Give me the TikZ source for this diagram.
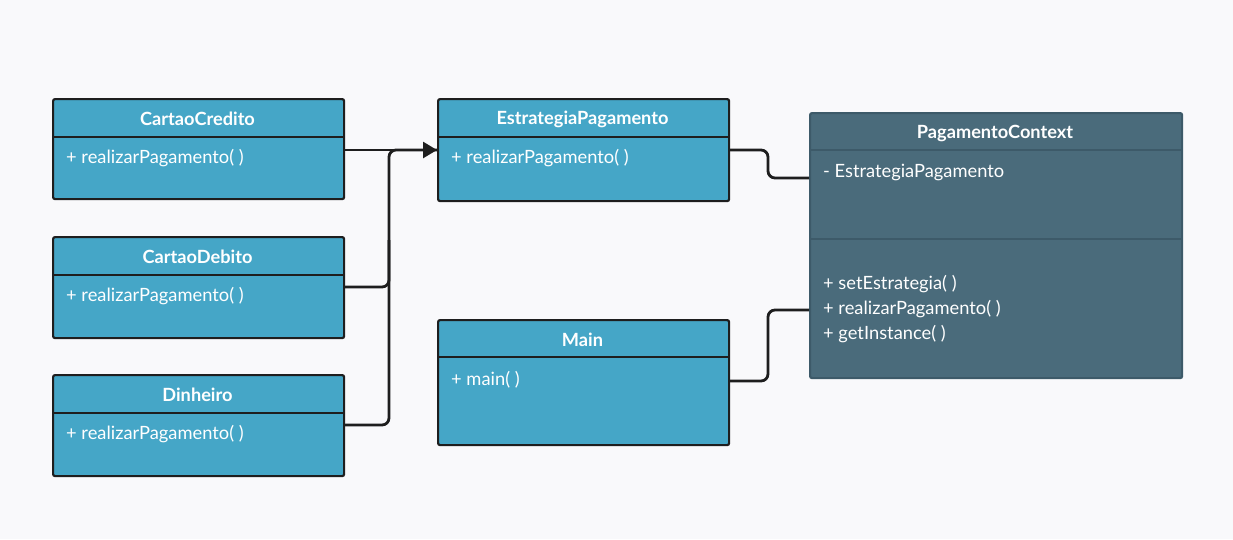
\documentclass[tikz,border=0pt]{standalone}
\usepackage{fontspec}
\setmainfont{Lato}
\usetikzlibrary{arrows.meta,calc}
\definecolor{bg}{HTML}{F9F9FB}
\definecolor{boxblue}{HTML}{45A6C7}
\definecolor{boxdark}{HTML}{4A6B7B}
\definecolor{darkline}{HTML}{3D5A69}
\definecolor{ink}{HTML}{1E1E1E}
\tikzset{
  classbox/.style={draw=ink, line width=2.2pt, fill=boxblue, rounded corners=2pt, inner sep=0pt, anchor=north west, minimum width=291pt},
  ctxbox/.style={draw=darkline, line width=2.2pt, fill=boxdark, rounded corners=2pt, inner sep=0pt, anchor=north west, minimum width=372pt},
  title/.style={text=white, font=\fontsize{18.2}{21}\selectfont\bfseries, inner sep=0pt},
  member/.style={text=white, font=\fontsize{18.3}{21}\selectfont, inner sep=0pt, anchor=west},
  conn/.style={draw=ink, line width=2.8pt, rounded corners=7pt},
}
\begin{document}
\begin{tikzpicture}[x=1pt,y=-1pt]
\useasboundingbox[fill=bg] (0,0) rectangle (1233,539);
% CartaoCredito
\node[classbox, minimum height=100pt] (cc) at (52,98) {};
\draw[ink, line width=2.2pt] (52,137) -- (343,137);
\node[title] (cct) at (197.5,119) {CartaoCredito};
\node[member] (ccm) at (66,158.5) {+ realizarPagamento( )};
% CartaoDebito
\node[classbox, minimum height=101pt] (cd) at (52,236) {};
\draw[ink, line width=2.2pt] (52,275) -- (343,275);
\node[title] (cdt) at (197.5,257) {CartaoDebito};
\node[member] (cdm) at (66,296.5) {+ realizarPagamento( )};
% Dinheiro
\node[classbox, minimum height=101pt] (di) at (52,374) {};
\draw[ink, line width=2.2pt] (52,413) -- (343,413);
\node[title] (dit) at (197.5,395) {Dinheiro};
\node[member] (dim) at (66,434.5) {+ realizarPagamento( )};
% EstrategiaPagamento
\node[classbox, minimum height=102pt] (ep) at (437,98) {};
\draw[ink, line width=2.2pt] (437,137) -- (728,137);
\node[title] (ept) at (582.5,119) {EstrategiaPagamento};
\node[member] (epm) at (451,158.5) {+ realizarPagamento( )};
% Main
\node[classbox, minimum height=125pt] (mn) at (437,319) {};
\draw[ink, line width=2.2pt] (437,357) -- (728,357);
\node[title] (mnt) at (582.5,340) {Main};
\node[member] (mnm) at (451,379.5) {+ main( )};
% PagamentoContext
\node[ctxbox, minimum height=265pt] (pc) at (809,112) {};
\draw[darkline, line width=2.2pt] (809,150) -- (1181,150);
\draw[darkline, line width=2.2pt] (809,239) -- (1181,239);
\node[title] (pct) at (995,133) {PagamentoContext};
\node[member] (pca) at (823,172) {- EstrategiaPagamento};
\node[member] (pcm1) at (823,284) {+ setEstrategia( )};
\node[member] (pcm2) at (823,309) {+ realizarPagamento( )};
\node[member] (pcm3) at (823,334) {+ getInstance( )};
% connectors
\coordinate (cce) at (cc.east |- 0,150);
\coordinate (epw) at (ep.west |- 0,150);
\coordinate (cde) at (cd.east |- 0,287);
\coordinate (die) at (di.east |- 0,425);
\coordinate (j1) at (389,240);
\draw[conn, -{Triangle[length=14pt,width=16pt]}] (cce) -- (epw);
\draw[conn] (cde) -- (389,287) -- (389,150) -- (epw);
\draw[conn] (die) -- (389,425) -- (j1);
\coordinate (epe) at (ep.east |- 0,150);
\coordinate (pcw1) at (pc.west |- 0,178);
\draw[conn] (epe) -- (768,150) -- (768,178) -- (pcw1);
\coordinate (mne) at (mn.east |- 0,381);
\coordinate (pcw2) at (pc.west |- 0,310);
\draw[conn] (mne) -- (768,381) -- (768,310) -- (pcw2);
\end{tikzpicture}
\end{document}
